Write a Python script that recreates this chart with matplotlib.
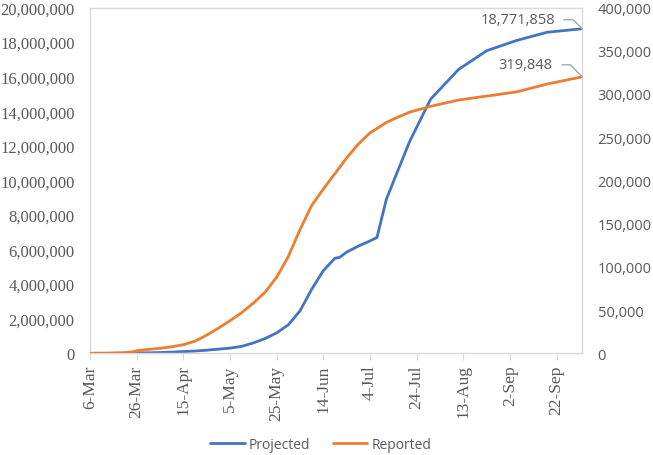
import matplotlib
matplotlib.use("Agg")
import matplotlib.pyplot as plt
import pandas as pd

dates = ["2020-03-06", "2020-03-11", "2020-03-16", "2020-03-21", "2020-03-25", "2020-03-26",
         "2020-03-31", "2020-04-05", "2020-04-10", "2020-04-15", "2020-04-20", "2020-04-25",
         "2020-04-30", "2020-05-05", "2020-05-10", "2020-05-15", "2020-05-20", "2020-05-25",
         "2020-05-30", "2020-06-04", "2020-06-09", "2020-06-14", "2020-06-19", "2020-06-21",
         "2020-06-24", "2020-06-29", "2020-07-04", "2020-07-07", "2020-07-11", "2020-07-15",
         "2020-07-21", "2020-07-30", "2020-08-11", "2020-08-23", "2020-09-05", "2020-09-18",
         "2020-10-03"]

projected = [0, 0, 2000, 8000, 15000, 18000,
             30000, 45000, 70000, 100000, 130000, 180000,
             240000, 300000, 400000, 600000, 850000, 1180000,
             1650000, 2450000, 3700000, 4780000, 5500000, 5550000,
             5850000, 6200000, 6500000, 6700000, 8900000, 10250000,
             12250000, 14700000, 16420000, 17500000, 18100000, 18570000,
             18771858]

reported = [0, 100, 300, 800, 2000, 3000,
            4500, 5800, 7500, 10000, 14000, 21000,
            29000, 37700, 47000, 58000, 70500, 88000,
            112000, 143000, 171000, 190000, 208000, 215000,
            226000, 242000, 255000, 260000, 267000, 272000,
            279000, 285700, 293000, 297500, 302500, 311500,
            319848]

tick_dates = ["2020-03-06", "2020-03-26", "2020-04-15", "2020-05-05", "2020-05-25",
              "2020-06-14", "2020-07-04", "2020-07-24", "2020-08-13", "2020-09-02",
              "2020-09-22"]
tick_labels = ["6-Mar", "26-Mar", "15-Apr", "5-May", "25-May", "14-Jun", "4-Jul",
               "24-Jul", "13-Aug", "2-Sep", "22-Sep"]

left_ticks = list(range(0, 20000001, 2000000))
right_ticks = list(range(0, 400001, 50000))

x = pd.to_datetime(dates)
xt = pd.to_datetime(tick_dates)

BLUE = "#4472C4"
ORANGE = "#ED7D31"
GRAY = "#595959"
LIGHT = "#D9D9D9"
SANS = "Open Sans"

fig = plt.figure(figsize=(6.53, 4.56), dpi=100)
ax = fig.add_axes([90/653, 1-354.3/456, (582.3-90)/653, (354.3-8.5)/456])
ax2 = ax.twinx()

l1, = ax.plot(x, projected, color=BLUE, lw=2, label="Projected", solid_capstyle="round")
l2, = ax2.plot(x, reported, color=ORANGE, lw=2, label="Reported", solid_capstyle="round")

ax.set_xlim(x[0], x[-1])
ax.set_ylim(0, 20000000)
ax2.set_ylim(0, 400000)

ax.set_xticks(xt)
ax.set_xticklabels(tick_labels, rotation=90, family="Liberation Serif", fontsize=12.5, color=GRAY)
ax.set_yticks(left_ticks)
ax.set_yticklabels([f"{v:,}" for v in left_ticks], family="Liberation Serif", fontsize=12, color=GRAY)
ax2.set_yticks(right_ticks)
ax2.set_yticklabels([f"{v:,}" for v in right_ticks], family=SANS, fontsize=10.5, color=GRAY)

ax.tick_params(axis="x", length=5, color=LIGHT, width=0.8, pad=3)
ax.tick_params(axis="y", length=0, pad=11)
ax2.tick_params(axis="y", length=0, pad=11)

for s in ax.spines.values():
    s.set_color(LIGHT)
    s.set_linewidth(1.0)
for s in ax2.spines.values():
    s.set_visible(False)

ax.annotate(f"{projected[-1]:,}", xy=(x[-1], projected[-1]), xytext=(-27, 9),
            textcoords="offset pixels", ha="right", va="center",
            family=SANS, fontsize=10.5, color=GRAY,
            arrowprops=dict(arrowstyle="-", color="#A6A6A6", lw=1,
                            connectionstyle="angle,angleA=0,angleB=135,rad=0",
                            relpos=(1, 0.5), shrinkA=4, shrinkB=0))
ax2.annotate(f"{reported[-1]:,}", xy=(x[-1], reported[-1]), xytext=(-30, 12),
             textcoords="offset pixels", ha="right", va="center",
             family=SANS, fontsize=10.5, color=GRAY,
             arrowprops=dict(arrowstyle="-", color="#A6A6A6", lw=1,
                             connectionstyle="angle,angleA=0,angleB=135,rad=0",
                             relpos=(1, 0.5), shrinkA=5, shrinkB=0))

leg = fig.legend(handles=[l1, l2], loc="center", bbox_to_anchor=(0.491, 0.024),
                 ncol=2, frameon=False, prop={"family": SANS, "size": 10},
                 handlelength=2.5, columnspacing=1.6, handletextpad=0.3)
for t in leg.get_texts():
    t.set_color(GRAY)

fig.savefig("out.png", dpi=100)
